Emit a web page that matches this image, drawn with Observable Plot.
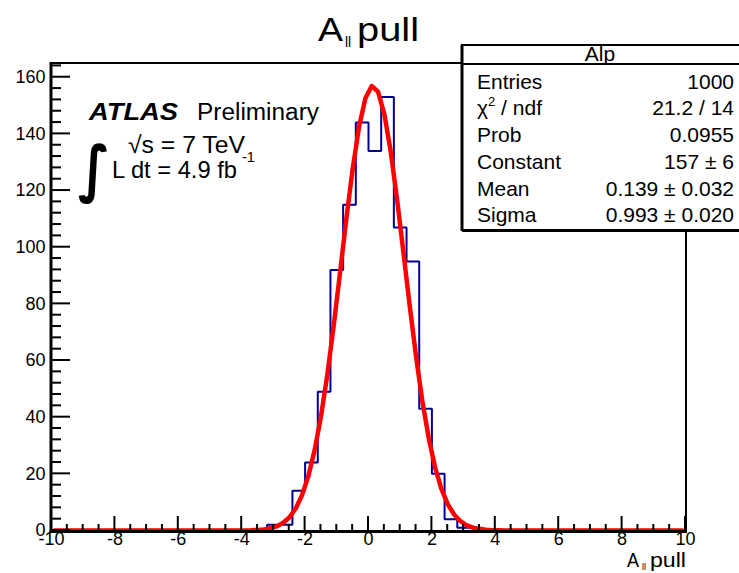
<!DOCTYPE html>
<html>
<head>
<meta charset="utf-8">
<script src="https://cdn.jsdelivr.net/npm/d3@7"></script>
<script src="https://cdn.jsdelivr.net/npm/@observablehq/plot@0.6"></script>
<style>
  html, body { margin: 0; padding: 0; background: #fff; }
  svg { display: block; }
</style>
</head>
<body>
<div id="chart"></div>
<script>
// ---------- data ----------
const binStart = -10;
const binWidth = 0.4;
// 50 bins from -10 to 10 (width 0.4)
const counts = [
  0, 0, 0, 0, 0, 0, 0, 0, 0, 0,
  0, 0, 0, 0, 0, 0, 0, 2, 2, 14,
  24, 49, 92, 115, 144, 134, 153, 107, 95, 43,
  20, 4, 1, 1, 0, 0, 0, 0, 0, 0,
  0, 0, 0, 0, 0, 0, 0, 0, 0, 0
];
// fitted gaussian curve, as drawn (polyline)
const fitX = [-9.9, -4.5, -4.3, -4.1, -3.9, -3.7, -3.5, -3.3, -3.1, -2.9, -2.7, -2.5, -2.3, -2.1, -1.9, -1.7,
  -1.5, -1.3, -1.1, -0.9, -0.7, -0.5, -0.3, -0.1, 0.1, 0.3, 0.5, 0.7, 0.9, 1.1, 1.3, 1.5, 1.7, 1.9,
  2.1, 2.3, 2.5, 2.7, 2.9, 3.1, 3.3, 3.5, 3.7, 3.9, 4.1, 4.3, 4.5, 9.9];
const fitY = [0, 0, 0.01, 0.02, 0.04, 0.09, 0.19, 0.39, 0.77, 1.45, 2.64, 4.59, 7.68, 12.4, 19.1, 28.3,
  40.2, 54.9, 72.1, 90.8, 109.9, 127.6, 142.4, 152.5, 156.9, 154.9, 147.0, 133.8, 117.0, 98.3, 79.3, 61.4, 45.6, 32.6,
  22.3, 14.7, 9.3, 5.64, 3.29, 1.84, 0.99, 0.51, 0.25, 0.12, 0.05, 0.02, 0.01, 0];
const xTicks = [-10, -8, -6, -4, -2, 0, 2, 4, 6, 8, 10];
const yTicks = [0, 20, 40, 60, 80, 100, 120, 140, 160];
const yMax = 164.85;
const statTitle = "Alp";
const statLabels = ["Entries", "χ² / ndf", "Prob", "Constant", "Mean", "Sigma"];
const statValues = ["1000", "21.2 / 14", "0.0955", "157 ± 6", "0.139 ± 0.032", "0.993 ± 0.020"];

// ---------- derived tables ----------
const steps = [];
counts.forEach((c, i) => {
  const lo = binStart + i * binWidth, hi = lo + binWidth;
  steps.push({x: lo, y: c}, {x: hi, y: c});
});
const fit = fitX.map((x, i) => ({x, y: fitY[i]}));

const FONT = "'Liberation Sans', Arial, Helvetica, sans-serif";

const chart = Plot.plot({
  width: 739,
  height: 573,
  marginLeft: 51,
  marginRight: 54,
  marginTop: 63,
  marginBottom: 43,
  style: {fontFamily: FONT, background: "white", color: "black"},
  x: {domain: [-10, 10], axis: null},
  y: {domain: [0, yMax], axis: null},
  marks: [
    Plot.line(steps, {x: "x", y: "y", stroke: "#000099", strokeWidth: 2, strokeLinejoin: "miter"}),
    Plot.line(fit, {x: "x", y: "y", stroke: "#ff0000", strokeWidth: 4.5, strokeLinejoin: "round"}),
    Plot.text(xTicks, {x: d => d, frameAnchor: "bottom", dy: 14, text: d => String(d), fontSize: 18, textAnchor: "middle", fill: "black"}),
    Plot.text(yTicks, {y: d => d, frameAnchor: "left", dx: -6, text: d => String(d), fontSize: 18, textAnchor: "end", fill: "black"})
  ]
});
document.getElementById("chart").appendChild(chart);

// ---------- ROOT-style frame, inward ticks, annotations ----------
const sx = chart.scale("x"), sy = chart.scale("y");
const X = v => sx.apply(v), Y = v => sy.apply(v);
const svg = d3.select(chart);
const g = svg.append("g").attr("text-anchor", "start").attr("font-family", FONT).attr("fill", "black");
const L = X(-10), R = X(10), T = Y(yMax), B = Y(0);

// ticks on x (every 0.5)
for (let v = -10; v <= 10.0001; v += 0.5) {
  const major = Math.abs(v / 2 - Math.round(v / 2)) < 1e-6;
  g.append("line").attr("x1", X(v)).attr("x2", X(v))
    .attr("y1", B).attr("y2", B - (major ? 14 : 6))
    .attr("stroke", "black").attr("stroke-width", 2);
}
// ticks on y (every 4)
for (let v = 0; v <= 164; v += 4) {
  const major = v % 20 === 0;
  g.append("line").attr("x1", L).attr("x2", L + (major ? 19 : 10))
    .attr("y1", Y(v)).attr("y2", Y(v))
    .attr("stroke", "black").attr("stroke-width", 2);
}
// frame
g.append("line").attr("x1", L).attr("x2", R).attr("y1", T).attr("y2", T).attr("stroke", "black").attr("stroke-width", 2);
g.append("line").attr("x1", R + 1).attr("x2", R + 1).attr("y1", T).attr("y2", B + 2).attr("stroke", "black").attr("stroke-width", 2);
g.append("line").attr("x1", L).attr("x2", L).attr("y1", T - 1).attr("y2", B + 3).attr("stroke", "black").attr("stroke-width", 3);
g.append("line").attr("x1", L - 1.5).attr("x2", R + 2).attr("y1", B + 1.5).attr("y2", B + 1.5).attr("stroke", "black").attr("stroke-width", 3);

function txt(parent, x, y, size, s, opts = {}) {
  const t = parent.append("text").attr("x", x).attr("y", y).attr("font-size", size).attr("text-anchor", opts.anchor || "start").text(s);
  if (opts.len) t.attr("textLength", opts.len).attr("lengthAdjust", "spacingAndGlyphs");
  if (opts.weight) t.attr("font-weight", opts.weight);
  if (opts.style) t.attr("font-style", opts.style);
  if (opts.family) t.attr("font-family", opts.family);
  return t;
}

// title
txt(g, 318, 41, 33, "A", {len: 25});
txt(g, 345, 47, 14, "ll");
txt(g, 357, 41, 33, "pull", {len: 62});

// x-axis title
txt(g, 627, 567, 20, "A", {len: 12});
txt(g, 642, 570, 9, "ll");
txt(g, 650, 567, 20, "pull", {len: 36});

// ATLAS label
txt(g, 89, 120, 24, "ATLAS", {weight: "bold", style: "italic", len: 89});
txt(g, 197, 120, 23, "Preliminary", {len: 122});
txt(g, 128, 153, 24, "\u221As = 7 TeV", {len: 117});
txt(g, 78, 190, 62, "\u222B", {family: "'DejaVu Sans', sans-serif", len: 32, weight: "bold"});
txt(g, 112, 178, 24, "L dt = 4.9 fb", {len: 125});
txt(g, 242, 162, 15, "-1", {len: 13});

// stats box
const bx = 462, by = 45, bw = 290, bh = 185;
const sb = g.append("g");
sb.append("rect").attr("x", bx).attr("y", by).attr("width", bw).attr("height", bh)
  .attr("fill", "white").attr("stroke", "black").attr("stroke-width", 2);
sb.append("line").attr("x1", bx).attr("x2", bx).attr("y1", by).attr("y2", by + bh + 1).attr("stroke", "black").attr("stroke-width", 3);
sb.append("line").attr("x1", bx).attr("x2", bx + bw).attr("y1", by + bh + 0.5).attr("y2", by + bh + 0.5).attr("stroke", "black").attr("stroke-width", 3);
sb.append("line").attr("x1", bx).attr("x2", bx + bw).attr("y1", 64).attr("y2", 64).attr("stroke", "black").attr("stroke-width", 2);
txt(sb, 600, 61, 21, statTitle, {anchor: "middle"});
const rowY = [89, 115, 142, 169, 196, 222];
statLabels.forEach((lab, i) => {
  if (lab.startsWith("χ²")) {
    const t = sb.append("text").attr("x", 477).attr("y", rowY[i]).attr("font-size", 21).attr("text-anchor", "start");
    t.append("tspan").text("χ");
    t.append("tspan").attr("dy", -9).attr("font-size", 13).text("2");
    t.append("tspan").attr("dy", 9).text(" / ndf");
  } else {
    txt(sb, 477, rowY[i], 21, lab);
  }
  txt(sb, 734, rowY[i], 21, statValues[i], {anchor: "end"});
});
</script>
</body>
</html>
